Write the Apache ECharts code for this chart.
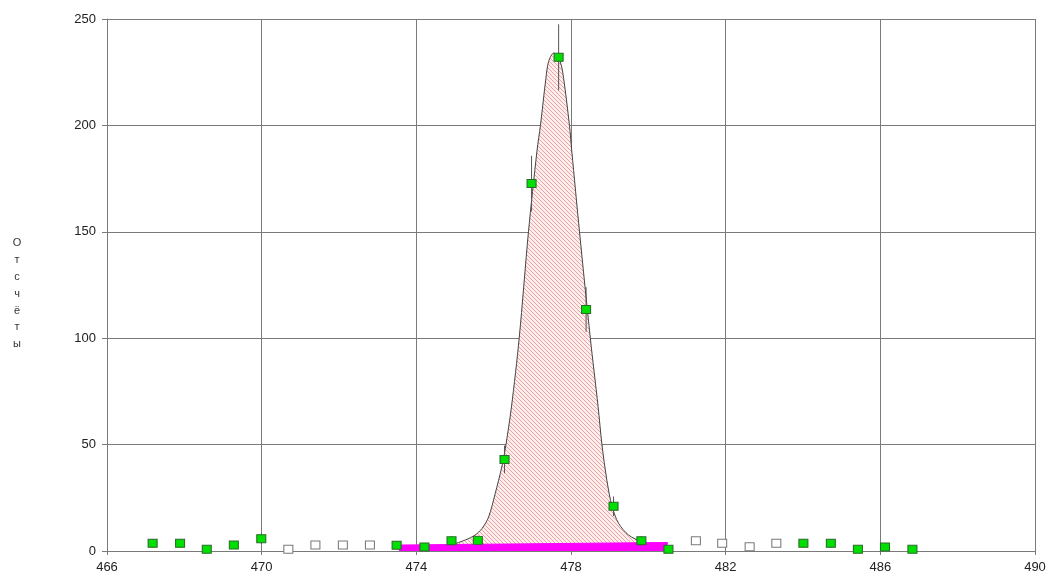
<!DOCTYPE html>
<html>
<head>
<meta charset="utf-8">
<script src="https://cdn.jsdelivr.net/npm/echarts@6/dist/echarts.min.js"></script>
<style>
html,body{margin:0;padding:0;background:#fff;}
#chart{width:1049px;height:574px;}
</style>
</head>
<body>
<div id="chart"></div>
<script>
// Measured points (energy, counts)
var pointX = [467.18, 467.89, 468.58, 469.28, 469.99, 470.69, 471.39, 472.10, 472.80, 473.49,
              474.21, 474.91, 475.59, 476.28, 476.98, 477.68, 478.39, 479.10, 479.82, 480.52,
              481.23, 481.91, 482.62, 483.31, 484.01, 484.72, 485.42, 486.12, 486.83];
var pointY = [3.6, 3.6, 0.8, 2.8, 5.8, 0.8, 2.8, 2.8, 2.8, 2.7,
              1.9, 4.8, 5.0, 43, 172.7, 232, 113.5, 21, 4.8, 0.8,
              4.8, 3.6, 2.0, 3.6, 3.6, 3.6, 0.8, 1.9, 0.8];
// 1 = used in fit (green), 0 = excluded (white)
var pointUsed = [1, 1, 1, 1, 1, 0, 0, 0, 0, 1,
                 1, 1, 1, 1, 1, 1, 1, 1, 1, 1,
                 0, 0, 0, 0, 1, 1, 1, 1, 1];
var pointErr = [2, 2, 1, 1.7, 2.4, 0, 0, 0, 0, 1.6,
                1.4, 2.2, 2.2, 6.5, 13, 15.5, 10.5, 4.6, 2.2, 1,
                0, 0, 0, 0, 2, 2, 1, 1.4, 1];

// Fitted peak curve
var curveX = [474.60, 474.91, 475.27, 475.52, 475.70, 475.87, 476.04, 476.21, 476.30, 476.46,
              476.66, 476.90, 477.12, 477.21, 477.35, 477.42, 477.55, 477.72, 477.81, 477.96,
              478.02, 478.22, 478.50, 478.70, 478.80, 478.93, 479.06, 479.23, 479.49, 479.83,
              480.18, 480.50];
var curveY = [2.5, 3.0, 5.2, 7.5, 10.6, 16, 27, 39.5, 48, 67.7,
              100, 150, 188, 200, 222, 230, 234, 230, 222, 200,
              188, 150, 100, 68, 50, 33, 21, 13, 7.5, 4.4,
              3.3, 3.5];

// Background band under the peak
var bgX = [473.55, 480.50];
var bgY = [2.8, 4.0];

var xTicks = {min: 466, max: 490, interval: 4};
var yTicks = {min: 0, max: 250, interval: 50};
var yTitle = 'О\nт\nс\nч\nё\nт\nы';

function zip(a, b) { return a.map(function (v, i) { return [v, b[i]]; }); }

var greenData = [], whiteData = [], errData = [];
pointX.forEach(function (x, i) {
  if (pointUsed[i]) greenData.push([x, pointY[i]]);
  else whiteData.push([x, pointY[i]]);
  if (pointErr[i] > 0) errData.push([x, pointY[i] - pointErr[i], pointY[i] + pointErr[i]]);
});

// hatch pattern
var pc = document.createElement('canvas');
pc.width = 4; pc.height = 4;
var pctx = pc.getContext('2d');
pctx.fillStyle = '#fdeeee';
pctx.fillRect(0, 0, 4, 4);
pctx.fillStyle = '#eda3a3';
for (var k = 0; k < 4; k++) pctx.fillRect(k, k, 1, 1);

var chart = echarts.init(document.getElementById('chart'), null, {renderer: 'canvas'});
var gridColor = '#7a7a7a';
chart.setOption({
  animation: false,
  backgroundColor: '#ffffff',
  grid: {left: 107, right: 14, top: 19, bottom: 22, containLabel: false},
  graphic: [{
    type: 'text', x: 17, y: 235,
    style: {text: yTitle, fill: '#333', font: '11px "Liberation Sans", Arial', lineHeight: 16.8,
            align: 'center', verticalAlign: 'top'}
  }],
  xAxis: {
    type: 'value', min: xTicks.min, max: xTicks.max, interval: xTicks.interval,
    axisLine: {show: true, lineStyle: {color: gridColor, width: 1}},
    axisTick: {show: true, length: 4, lineStyle: {color: gridColor}},
    axisLabel: {color: '#222', fontFamily: 'Liberation Sans, Arial', fontSize: 13, margin: 10},
    splitLine: {show: true, lineStyle: {color: gridColor, width: 1}}
  },
  yAxis: {
    type: 'value', min: yTicks.min, max: yTicks.max, interval: yTicks.interval,
    axisLine: {show: true, lineStyle: {color: gridColor, width: 1}},
    axisTick: {show: true, length: 5, lineStyle: {color: gridColor}},
    axisLabel: {color: '#222', fontFamily: 'Liberation Sans, Arial', fontSize: 13, margin: 11},
    splitLine: {show: true, lineStyle: {color: gridColor, width: 1}}
  },
  series: [
    {
      type: 'line', data: zip(curveX, curveY), smooth: 0.3, showSymbol: false, z: 2,
      lineStyle: {color: '#444', width: 1},
      areaStyle: {color: {image: pc, repeat: 'repeat'}, opacity: 1}
    },
    {
      type: 'line', data: zip(bgX, bgY), showSymbol: false, z: 3,
      lineStyle: {color: '#ff00ff', width: 1},
      areaStyle: {color: '#ff00ff', opacity: 1}
    },
    {
      type: 'custom', z: 4, data: errData,
      renderItem: function (params, api) {
        var p1 = api.coord([api.value(0), api.value(1)]);
        var p2 = api.coord([api.value(0), api.value(2)]);
        return {type: 'line', shape: {x1: p1[0], y1: p1[1], x2: p2[0], y2: p2[1]},
                style: {stroke: '#555', lineWidth: 1}};
      },
      encode: {x: 0, y: [1, 2]}
    },
    {
      type: 'scatter', data: whiteData, z: 5, symbol: 'rect', symbolSize: [9, 8],
      itemStyle: {color: '#ffffff', borderColor: '#7a7a7a', borderWidth: 1, opacity: 1}
    },
    {
      type: 'scatter', data: greenData, z: 6, symbol: 'rect', symbolSize: [9, 8],
      itemStyle: {color: '#00e000', borderColor: '#2a6a2a', borderWidth: 1, opacity: 1}
    }
  ]
});
</script>
</body>
</html>
